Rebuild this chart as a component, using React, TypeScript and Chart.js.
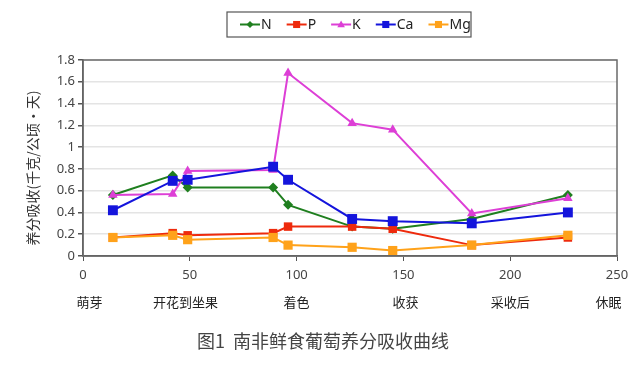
import React, { useEffect, useRef } from "react";
import { Chart, registerables } from "chart.js";

Chart.register(...registerables);

const days = [14, 42, 49, 89, 96, 126, 145, 182, 227];
const nValues = [0.56, 0.74, 0.63, 0.63, 0.47, 0.27, 0.25, 0.34, 0.56];
const pValues = [0.17, 0.21, 0.19, 0.21, 0.27, 0.27, 0.25, 0.1, 0.17];
const kValues = [0.56, 0.57, 0.78, 0.79, 1.68, 1.22, 1.16, 0.39, 0.53];
const caValues = [0.42, 0.69, 0.7, 0.82, 0.7, 0.34, 0.32, 0.3, 0.4];
const mgValues = [0.17, 0.19, 0.15, 0.17, 0.1, 0.08, 0.05, 0.1, 0.19];

const stageLabels = ["萌芽", "开花到坐果", "着色", "收获", "采收后", "休眠"];
const stagePositions = [3, 48, 100, 151, 200, 246];
const yAxisTitle = "养分吸收(千克/公顷·天)";
const figureTitle = "图1  南非鲜食葡萄养分吸收曲线";

const SANS = "'Noto Sans', 'Noto Sans CJK SC', sans-serif";
const CJK = "'Noto Sans CJK SC', 'Noto Sans', sans-serif";

type S = { label: string; data: number[]; color: string; style: string; r: number; lr: number; order: number };
const series: S[] = [
  { label: "N", data: nValues, color: "#1f7f1f", style: "rectRot", r: 5, lr: 3.5, order: 5 },
  { label: "P", data: pValues, color: "#ee2a0c", style: "rect", r: 6, lr: 5, order: 4 },
  { label: "K", data: kValues, color: "#dd3fd6", style: "triangle", r: 5.5, lr: 4, order: 3 },
  { label: "Ca", data: caValues, color: "#1414dc", style: "rect", r: 7, lr: 5, order: 2 },
  { label: "Mg", data: mgValues, color: "#ffa21a", style: "rect", r: 6.5, lr: 5, order: 1 },
];

function drawMarker(ctx: CanvasRenderingContext2D, style: string, x: number, y: number, r: number, color: string) {
  ctx.save();
  ctx.fillStyle = color;
  ctx.beginPath();
  if (style === "rect") {
    const s = Math.SQRT1_2 * r;
    ctx.rect(x - s, y - s, 2 * s, 2 * s);
  } else if (style === "rectRot") {
    ctx.moveTo(x, y - r);
    ctx.lineTo(x + r, y);
    ctx.lineTo(x, y + r);
    ctx.lineTo(x - r, y);
    ctx.closePath();
  } else {
    ctx.moveTo(x, y - r);
    ctx.lineTo(x + r * 0.95, y + r * 0.7);
    ctx.lineTo(x - r * 0.95, y + r * 0.7);
    ctx.closePath();
  }
  ctx.fill();
  ctx.restore();
}

const extras = {
  id: "extras",
  afterDraw(chart: any) {
    const ctx: CanvasRenderingContext2D = chart.ctx;
    const a = chart.chartArea;
    const xs = chart.scales.x;
    ctx.save();
    // frame
    ctx.strokeStyle = "#6a6a6a";
    ctx.lineWidth = 1.5;
    ctx.strokeRect(a.left, a.top, a.right - a.left, a.bottom - a.top);

    // y title
    ctx.save();
    ctx.translate(33, 168);
    ctx.rotate(-Math.PI / 2);
    ctx.fillStyle = "#333";
    ctx.font = `14px ${CJK}`;
    ctx.textAlign = "center";
    ctx.textBaseline = "middle";
    ctx.fillText(yAxisTitle, 0, 0);
    ctx.restore();

    // stage labels
    ctx.fillStyle = "#222";
    ctx.font = `13px ${CJK}`;
    ctx.textAlign = "center";
    ctx.textBaseline = "middle";
    stageLabels.forEach((s, i) => {
      ctx.fillText(s, xs.getPixelForValue(stagePositions[i]), 302);
    });

    // figure title
    ctx.fillStyle = "#444";
    ctx.font = `18px ${CJK}`;
    ctx.fillText(figureTitle, 323, 341);

    // legend
    const lx0 = 227, ly0 = 12, lx1 = 471, ly1 = 37;
    ctx.strokeStyle = "#555";
    ctx.lineWidth = 1.2;
    ctx.strokeRect(lx0, ly0, lx1 - lx0, ly1 - ly0);
    ctx.font = `14px ${SANS}`;
    ctx.textAlign = "left";
    let x = 240;
    const cy = (ly0 + ly1) / 2;
    series.forEach((s) => {
      ctx.strokeStyle = s.color;
      ctx.lineWidth = 2;
      ctx.beginPath();
      ctx.moveTo(x, cy);
      ctx.lineTo(x + 20, cy);
      ctx.stroke();
      drawMarker(ctx, s.style, x + 10, cy, s.lr, s.color);
      ctx.fillStyle = "#222";
      ctx.fillText(s.label, x + 21, cy + 1);
      x += 21 + ctx.measureText(s.label).width + 15;
    });
    ctx.restore();
  },
};

export default function App() {
  const ref = useRef<HTMLCanvasElement>(null);
  useEffect(() => {
    document.body.style.margin = "0";
    const chart = new Chart(ref.current!, {
      type: "line",
      data: {
        datasets: series.map((s) => ({
          label: s.label,
          data: days.map((d, i) => ({ x: d, y: s.data[i] })),
          borderColor: s.color,
          backgroundColor: s.color,
          pointBackgroundColor: s.color,
          pointBorderColor: s.color,
          pointBorderWidth: 0,
          pointStyle: s.style as any,
          pointRadius: s.r,
          borderWidth: 2,
          tension: 0,
          order: s.order,
        })),
      },
      options: {
        animation: false,
        responsive: false,
        maintainAspectRatio: false,
        layout: { padding: { top: 60, right: 27, left: 0, bottom: 0 } },
        plugins: { legend: { display: false }, title: { display: false }, tooltip: { enabled: false } },
        scales: {
          x: {
            type: "linear",
            min: 0,
            max: 250,
            ticks: { stepSize: 50, color: "#444", font: { size: 13, family: SANS }, padding: 6, maxRotation: 0 },
            grid: { drawOnChartArea: false, drawTicks: true, tickLength: 5, tickColor: "#555", color: "#555" },
            border: { color: "#555", width: 1.5 },
            afterFit: (s: any) => { s.height = 109; },
          },
          y: {
            min: 0,
            max: 1.8,
            ticks: { stepSize: 0.2, color: "#444", font: { size: 13, family: SANS }, padding: 3, callback: (v: any) => String(Math.round(Number(v) * 10) / 10) },
            grid: { color: "#e4e4e4", lineWidth: 1.5, tickColor: "#555", tickLength: 5, drawTicks: true },
            border: { color: "#555", width: 1.5 },
            afterFit: (s: any) => { s.width = 83; },
          },
        },
      },
      plugins: [extras],
    });
    return () => chart.destroy();
  }, []);
  return (
    <div style={{ position: "absolute", left: 0, top: 0, width: 644, height: 365, background: "#fff" }}>
      <canvas ref={ref} width={644} height={365} style={{ width: 644, height: 365, display: "block" }} />
    </div>
  );
}
